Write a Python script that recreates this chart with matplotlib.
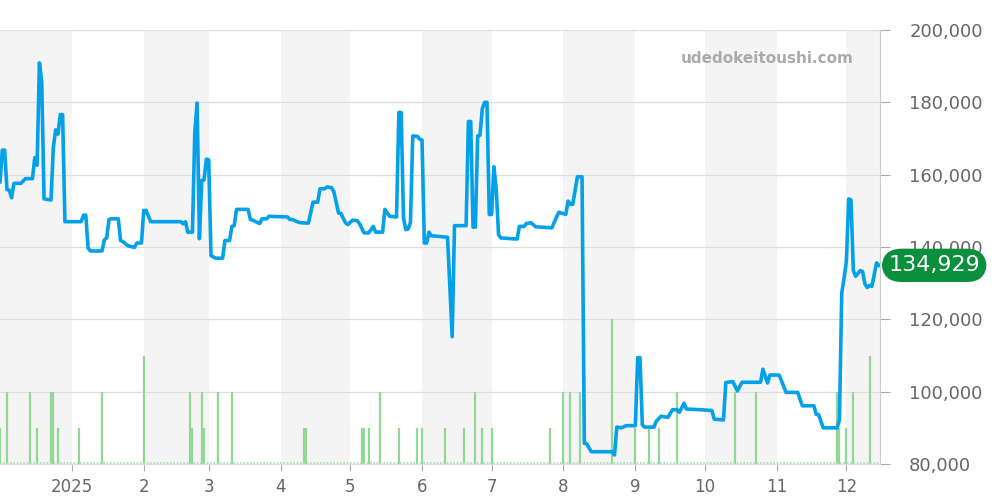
import numpy as np
import matplotlib
matplotlib.use("Agg")
import matplotlib.pyplot as plt
from matplotlib.ticker import FuncFormatter

# series start; all day values below are days counted from this date
start = np.datetime64("2024-12-01")

# price line (yen)
price_day = [0, 1, 2, 3, 4, 5, 6, 9, 11, 14, 15, 16, 17, 18, 19, 21, 22, 23, 24, 25, 26, 27, 28,
             35, 36, 37, 38, 39, 44, 45, 46, 47, 48, 51, 52, 53, 55, 56, 58, 59, 61, 62, 63, 65, 78,
             79, 80, 81, 83, 84, 85, 86, 87, 88, 89, 90, 91, 93, 96, 97, 99, 100, 101, 102, 107,
             108, 109, 112, 113, 115, 116, 124, 125, 126, 129, 130, 133, 135, 137, 138, 140, 141,
             143, 144, 146, 147, 149, 150, 152, 154, 155,
             157, 159, 161, 162, 165, 166, 168, 171, 172, 173, 174, 175, 176, 177, 178, 180, 181,
             182, 183, 184, 185, 186, 188, 193, 195, 196, 201, 202, 203, 204, 205, 206, 207, 208,
             209, 210, 211, 212, 213, 214, 215, 216, 223, 224, 226, 227, 229, 231, 233,
             238, 240, 241, 244, 245, 246, 247, 249, 251, 252, 253, 255, 264, 265, 266, 268, 270,
             274, 275, 276, 277, 278, 282, 283, 285, 288, 290, 292, 293, 295, 296, 302, 307, 308,
             312, 313, 316, 318, 320, 328, 329, 331, 332, 336, 339, 344, 346, 351, 352, 353, 355,
             361, 362, 363, 364, 365, 366, 367, 368, 369, 371, 372, 373, 374, 375, 376, 378, 379]
price = [158000, 166800, 166800, 155900, 155700, 153600, 157600, 157600, 158900, 158900, 164700,
         162600, 190900, 185600, 153300, 153100, 153000, 167500, 172400, 171200, 176600, 176600,
         147000, 147000, 148800, 148800, 139700, 138900, 138900, 142000, 142500, 147600, 147800,
         147800, 141800, 141500, 140400, 140200, 139900, 141100, 141100, 150100, 150100, 147000,
         147000,
         146400, 147000, 144100, 144100, 171700, 179800, 142300, 158400, 158500, 164300, 164100,
         137600, 136900, 136900, 141800, 141800, 145700, 145900, 150400, 150400, 147600, 147400,
         146500, 147800, 147800, 148500, 148300, 147600, 147600, 146800, 146700, 146600, 152400,
         152400, 156100, 156100, 156600, 156400, 155200, 149400, 149300, 146700, 146200, 147400,
         147300, 146500,
         143900, 143900, 145700, 144100, 144100, 150400, 148500, 148300, 177200, 177200, 148100,
         144800, 145000, 146700, 170700, 170600, 169800, 169600, 141100, 141100, 144100, 143100,
         143000, 142700, 115200, 145900, 145900, 174700, 174700, 145500, 145500, 170700, 170900,
         178300, 180000, 180000, 149000, 149000, 162200, 155900, 143400, 142500, 142200, 145700,
         145700, 146500, 146700, 145600, 145500,
         145300, 148300, 149600, 149000, 152700, 151800, 151800, 159400, 159400, 85700, 85600,
         83400, 83400, 82500, 90200, 90000, 90600, 90600, 109400, 109400, 90800, 90200, 90200,
         91800, 93200, 92900, 95000, 95000, 94300, 96800, 95200, 95000, 94800, 92400, 92200,
         102500, 102800, 100200, 102600, 102600, 106200, 102400, 104600, 104600, 99800, 99800,
         96100, 96100, 93700, 93700, 90000, 90000, 92200, 127200, 131400, 136000, 153300, 153000,
         133500, 131900, 133500, 133200, 129800, 128800, 129400, 129100, 135600, 134929]

# number of trades per day (green bars)
volume_day = [0, 3, 13, 16, 22, 23, 25, 34, 44, 62, 82, 83, 87, 88, 94, 100, 131, 132, 156, 157,
              159, 164, 172, 180, 182, 192, 200, 205, 208, 212, 237, 243, 246, 250, 264, 274, 280,
              284, 292, 317, 326, 361, 362, 365, 368, 375]
volume = [1, 2, 2, 1, 2, 2, 1, 1, 2, 3, 2, 1, 2, 1, 2, 2, 1, 1, 1, 1,
          1, 2, 1, 1, 1, 1, 1, 2, 1, 1, 1, 2, 2, 2, 4, 1, 1,
          1, 2, 2, 2, 2, 1, 1, 2, 3]

month_labels = ["2025", "2", "3", "4", "5", "6", "7", "8", "9", "10", "11", "12"]
y_ticks = [80000, 100000, 120000, 140000, 160000, 180000, 200000]

price_dates = start + np.array(price_day).astype("timedelta64[D]")
volume_dates = start + np.array(volume_day).astype("timedelta64[D]")
month_starts = np.arange("2025-01", "2026-01", dtype="datetime64[M]").astype("datetime64[D]")
end = start + np.timedelta64(379, "D") + np.timedelta64(12, "h")

fig = plt.figure(figsize=(10, 5), dpi=100)
ax2 = fig.add_axes([0.0, 0.072, 0.88, 0.868])   # shading + volume bars (back)
ax = fig.add_axes([0.0, 0.072, 0.88, 0.868], sharex=ax2)  # price line (front)
ax.patch.set_visible(False)

# alternating month shading
bands = np.concatenate([[start], month_starts, [end]])
for i in range(0, len(bands) - 1, 2):
    ax2.axvspan(bands[i], bands[i + 1], color="#f4f4f4", lw=0, zorder=0)

# grid lines behind the bars
for v in y_ticks:
    ax2.axhline((v - 80000) / 10000, color="#dedede", lw=0.9, zorder=0.5)

ax2.vlines(volume_dates, 0, volume, color="#92d798", lw=1.6, zorder=1)
ax2.axhline(0.04, color="#a8e0ab", lw=1.2, ls=(0, (1, 1)), zorder=1)
ax2.set_ylim(0, 12)
ax2.set_xlim(start, end)
ax2.set_yticks([])
ax2.tick_params(axis="x", bottom=False, labelbottom=False)
for s in ax2.spines.values():
    s.set_visible(False)

ax.plot(price_dates, price, color="#04a0e8", lw=2.6, zorder=3)
ax.set_ylim(80000, 200000)
ax.set_xlim(start, end)
ax.set_yticks(y_ticks)
ax.yaxis.tick_right()
ax.yaxis.set_major_formatter(FuncFormatter(lambda v, p: f"{int(v):,}"))
ax.tick_params(axis="y", length=7, color="#aaaaaa", labelcolor="#666666", labelsize=13, pad=14)
ax.set_xticks(month_starts)
ax.set_xticklabels(month_labels)
ax.tick_params(axis="x", length=5, color="#aaaaaa", labelcolor="#666666", labelsize=12, pad=5)
for side in ["top", "left"]:
    ax.spines[side].set_visible(False)
ax.spines["right"].set_color("#cccccc")
ax.spines["bottom"].set_color("#dedede")

ax.text(0.97, 0.935, "udedokeitoushi.com", transform=ax.transAxes, ha="right", va="center",
        fontsize=11, fontweight="bold", color="#aaaaaa", zorder=5)

# last price badge
ax.annotate(f"{price[-1]:,}", xy=(1.0, price[-1]), xycoords=("axes fraction", "data"),
            xytext=(6, 0), textcoords="offset points", ha="left", va="center",
            fontsize=16, color="white", zorder=6, annotation_clip=False,
            bbox=dict(boxstyle="round,pad=0.3,rounding_size=0.9", fc="#0a8f3c", ec="none"))

fig.savefig("out.png", dpi=100)
